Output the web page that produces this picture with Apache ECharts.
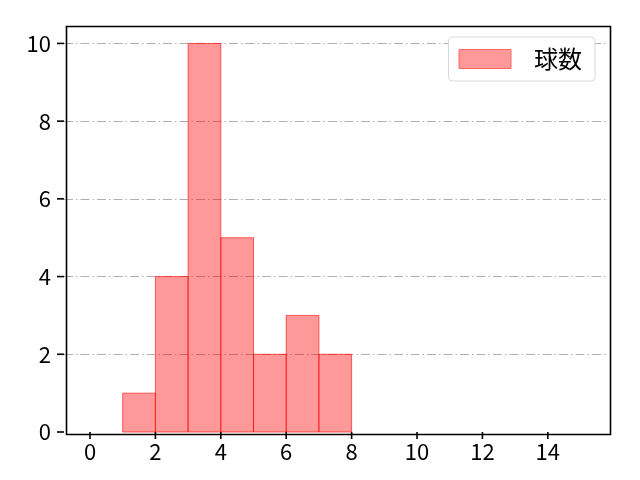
<!DOCTYPE html>
<html><head><meta charset="utf-8">
<script src="https://cdn.jsdelivr.net/npm/echarts@6/dist/echarts.min.js"></script>
<style>html,body{margin:0;padding:0;background:#fff}#c{width:640px;height:480px}</style>
</head><body><div id="c"></div>
<script>
const binStarts = [1, 2, 3, 4, 5, 6, 7];
const binEnds = [2, 3, 4, 5, 6, 7, 8];
const counts = [1, 4, 10, 5, 2, 3, 2];
const seriesName = '球数';
const xTicks = [0, 2, 4, 6, 8, 10, 12, 14];
const yTicks = [0, 2, 4, 6, 8, 10];

const X_MIN = -0.795, X_MAX = 15.84, Y_MIN = 0, Y_MAX = 10.5;
const data = binStarts.map((s, i) => [s, binEnds[i], counts[i]]);
const chart = echarts.init(document.getElementById('c'));
const font = "'Noto Sans CJK JP', 'DejaVu Sans', sans-serif";
const TICK = 7;
chart.setOption({
  animation: false,
  grid: {left: 64, right: 32, top: 24, bottom: 48},
  xAxis: {
    type: 'value', min: X_MIN, max: X_MAX,
    axisLine: {show: false},
    axisTick: {show: false},
    axisLabel: {color: '#000', fontSize: 22, fontFamily: font, margin: 9,
      customValues: xTicks, formatter: v => String(v)},
    splitLine: {show: false}
  },
  yAxis: {
    type: 'value', min: Y_MIN, max: Y_MAX,
    axisLine: {show: false},
    axisTick: {show: false},
    axisLabel: {color: '#000', fontSize: 22, fontFamily: font, margin: 13,
      customValues: yTicks, formatter: v => String(v)},
    splitLine: {show: false}
  },
  legend: {
    show: true, right: 45, top: 37, orient: 'vertical',
    itemWidth: 52, itemHeight: 19, itemGap: 5,
    padding: [10, 13, 10, 10],
    backgroundColor: '#fff', borderColor: '#d9d9d9', borderWidth: 1, borderRadius: 4,
    textStyle: {fontSize: 24, fontFamily: font, color: '#000', padding: [0, 0, 0, 18]},
    data: [{name: seriesName, icon: 'rect', itemStyle: {color: '#ff9999', borderColor: '#ff6666', borderWidth: 1}}]
  },
  series: [{
    type: 'line', silent: true, z: 1,
    markLine: {
      silent: true, symbol: 'none', label: {show: false}, z: 1,
      lineStyle: {color: '#b0b0b0', width: 1, type: [9, 3, 1.5, 3]},
      data: yTicks.filter(v => v > 0).map(v => ({yAxis: v}))
    },
    data: []
  }, {
    type: 'custom', name: seriesName, z: 3,
    itemStyle: {color: '#ff9999'},
    renderItem: function (params, api) {
      const p0 = api.coord([api.value(0), api.value(2)]);
      const p1 = api.coord([api.value(1), 0]);
      return {
        type: 'rect',
        shape: {x: p0[0], y: p0[1], width: p1[0] - p0[0], height: p1[1] - p0[1]},
        style: {fill: 'rgba(255,0,0,0.4)', stroke: 'rgba(255,0,0,0.6)', lineWidth: 1}
      };
    },
    encode: {x: [0, 1], y: 2},
    data: data
  }, {
    type: 'custom', silent: true, clip: false, z: 5,
    renderItem: function (params, api) {
      const p = api.coord([api.value(0), api.value(1)]);
      return {type: 'line', shape: {x1: p[0], y1: p[1], x2: p[0], y2: p[1] + TICK},
        style: {stroke: '#000', lineWidth: 1.6}};
    },
    encode: {x: 0, y: 1},
    data: xTicks.map(v => [v, Y_MIN])
  }, {
    type: 'custom', silent: true, clip: false, z: 5,
    renderItem: function (params, api) {
      const p = api.coord([api.value(0), api.value(1)]);
      return {type: 'line', shape: {x1: p[0], y1: p[1], x2: p[0] - TICK, y2: p[1]},
        style: {stroke: '#000', lineWidth: 1.6}};
    },
    encode: {x: 0, y: 1},
    data: yTicks.map(v => [X_MIN, v])
  }],
  graphic: [{
    type: 'rect', left: 64, top: 24, z: 100, silent: true,
    shape: {width: 544, height: 408},
    style: {fill: 'none', stroke: '#000', lineWidth: 1.6}
  }]
});
</script></body></html>
